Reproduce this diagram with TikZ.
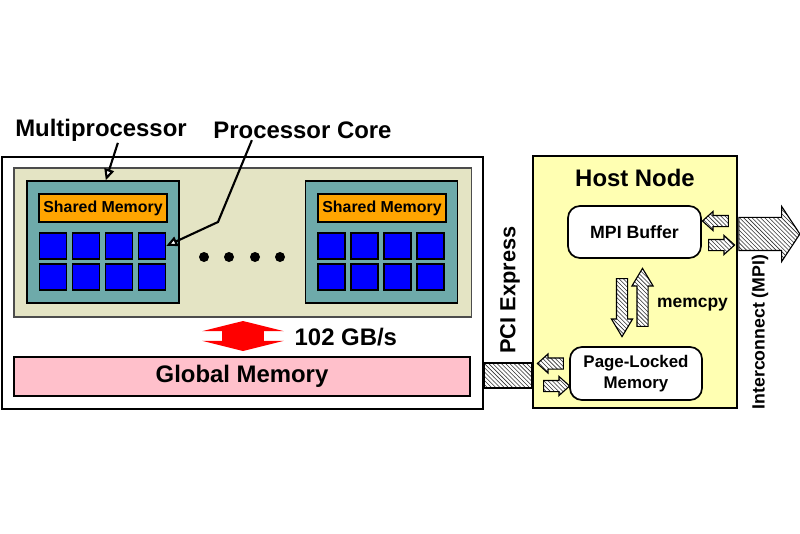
\documentclass[tikz,border=0pt]{standalone}
\usepackage{fontspec}
\setmainfont{Liberation Sans}
\usetikzlibrary{arrows.meta,shapes.arrows,patterns}

\definecolor{smbg}{RGB}{228,228,196}
\definecolor{mpteal}{RGB}{110,170,170}
\definecolor{hostyellow}{RGB}{255,255,178}
\definecolor{gmpink}{RGB}{255,192,203}
\definecolor{shmorange}{RGB}{255,165,0}

\begin{document}
\begin{tikzpicture}[x=0.025cm,y=-0.025cm,
    big/.style={font=\fontsize{17}{20}\selectfont\bfseries,inner sep=1pt},
    core/.style={shape=rectangle,draw=black,line width=1pt,fill=blue,minimum width=0.675cm,minimum height=0.65cm,inner sep=0pt},
    shm/.style={shape=rectangle,draw=black,line width=1pt,fill=shmorange,minimum width=3.2cm,minimum height=0.7cm,inner sep=0pt,font=\fontsize{11.3}{13}\selectfont\bfseries},
    mp/.style={shape=rectangle,draw=black,line width=1pt,fill=mpteal,minimum width=3.8cm,minimum height=3.05cm},
    buf/.style={shape=rectangle,rounded corners=0.3cm,draw=black,line width=1.2pt,fill=white,font=\fontsize{12.6}{15.4}\selectfont\bfseries},
    pointer/.style={line width=1.5pt,-{Triangle[length=8pt,width=7pt,fill=white]}},
    hatch/.style={draw=black,line width=0.8pt,preaction={fill=white},pattern=north west lines,pattern color=black!80},
    small/.style={single arrow,hatch,inner sep=0.125cm,single arrow head extend=0.1cm,single arrow tip angle=84,minimum height=0.65cm},
    cpy/.style={single arrow,hatch,inner sep=0.125cm,single arrow head extend=0.125cm,single arrow tip angle=62,minimum height=1.45cm}]
    \useasboundingbox (0,0) rectangle (800,533);

    \node[shape=rectangle,draw=black,line width=1.8pt,fill=white,minimum width=12.025cm,minimum height=6.3cm] (gpu) at (242.5,283) {};
    \node[shape=rectangle,draw=black!70,line width=0.8pt,fill=smbg,minimum width=11.425cm,minimum height=3.725cm] (sms) at (242.5,242.5) {};

    \node[mp] (mp1) at (103,242) {};
    \node[mp] (mp2) at (381.5,242) {};
    \node[shm] (shm1) at (103,208) {Shared Memory};
    \node[shm] (shm2) at (382,208) {Shared Memory};

    \node[core] (c11) at (53,246) {};
    \node[core] (c12) at (86,246) {};
    \node[core] (c13) at (119,246) {};
    \node[core] (c14) at (152,246) {};
    \node[core] (c15) at (53,277) {};
    \node[core] (c16) at (86,277) {};
    \node[core] (c17) at (119,277) {};
    \node[core] (c18) at (152,277) {};
    \node[core] (c21) at (331.5,246) {};
    \node[core] (c22) at (364.5,246) {};
    \node[core] (c23) at (397.5,246) {};
    \node[core] (c24) at (430.5,246) {};
    \node[core] (c25) at (331.5,277) {};
    \node[core] (c26) at (364.5,277) {};
    \node[core] (c27) at (397.5,277) {};
    \node[core] (c28) at (430.5,277) {};

    \fill (204,257) circle (0.125cm) (229,257) circle (0.125cm) (255,257) circle (0.125cm) (280,257) circle (0.125cm);

    \node[shape=rectangle,draw=black,line width=1.2pt,fill=gmpink,minimum width=11.4cm,minimum height=0.975cm,big] (gmem) at (242,376.5) {Global Memory};
    \node[double arrow,fill=red,rotate=90,inner xsep=0pt,inner ysep=0.5125cm,double arrow head extend=0.5cm,double arrow tip angle=152,minimum height=0.75cm] (bwarrow) at (243,336) {};
    \node[big,anchor=west] (bw) at (293,337) {102 GB/s};

    \node[big] (mplabel) at (101,130) {Multiprocessor};
    \node[big] (pclabel) at (302.5,130) {Processor Core};
    \coordinate (pcbend) at (218,222);
    \draw[pointer] ([xshift=12pt]mplabel.south) -- ([xshift=2pt]mp1.north);
    \draw[pointer] ([xshift=-36pt]pclabel.south) -- (pcbend) -- (c14.east);

    \node[shape=rectangle,draw=black,line width=1.8pt,fill=hostyellow,minimum width=5.1cm,minimum height=6.3cm] (host) at (635,282) {};
    \node[big] (hostlabel) at (635,178) {Host Node};
    \node[buf,minimum width=3.325cm,minimum height=1.3cm] (mpibuf) at (634.5,232) {MPI Buffer};
    \node[buf,align=center,minimum width=3.3cm,minimum height=1.325cm,font=\fontsize{12}{15.4}\selectfont\bfseries] (plmem) at (636,373.5) {Page-Locked\\Memory};

    \node[cpy,rotate=-90] (cpydown) at (622,303) {};
    \node[cpy,rotate=90] (cpyup) at (642.5,302) {};
    \node[font=\fontsize{12.4}{15}\selectfont\bfseries] (memcpy) at (692.5,305) {memcpy};

    \node[small,rotate=180] (mpiin) at (718.5,221) {};
    \node[small] (mpiout) at (718.5,245) {};
    \node[small,rotate=180] (plin) at (553.5,363.5) {};
    \node[small] (plout) at (553.5,386) {};

    \draw[hatch] ([yshift=-2cm]gpu.east) rectangle ([yshift=-2.65cm]host.west);
    \node[big,font=\fontsize{15.5}{18}\selectfont\bfseries,rotate=90] (pcie) at (510,290) {PCI Express};

    \node[single arrow,hatch,inner sep=0.4cm,single arrow head extend=0.275cm,single arrow tip angle=113,minimum height=1.525cm,anchor=tail] (ic) at ([yshift=1.2cm]host.east) {};
    \node[font=\fontsize{12.6}{15}\selectfont\bfseries,rotate=90] (iclabel) at (760,332) {Interconnect (MPI)};
\end{tikzpicture}
\end{document}
